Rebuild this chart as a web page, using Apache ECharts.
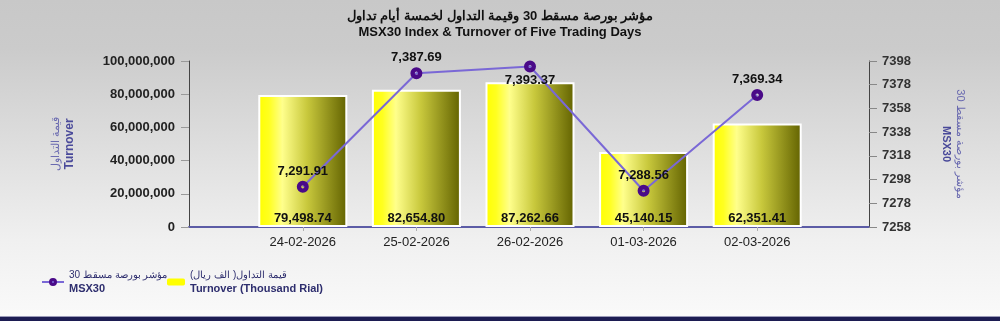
<!DOCTYPE html>
<html>
<head>
<meta charset="utf-8">
<script src="https://cdn.jsdelivr.net/npm/echarts@6/dist/echarts.min.js"></script>
<style>
  html, body { margin: 0; padding: 0; }
  #echarts { width: 1000px; height: 321px; }
</style>
</head>
<body>
<div id="echarts"></div>
<script>
// trading days
var dates = ['24-02-2026', '25-02-2026', '26-02-2026', '01-03-2026', '02-03-2026'];
// MSX30 index close
var msxValues = [7291.91, 7387.69, 7393.37, 7288.56, 7369.34];
// turnover, thousand rial
var turnoverValues = [79498.74, 82654.80, 87262.66, 45140.15, 62351.41];
// right axis ticks
var msxMin = 7258, msxMax = 7398, msxStep = 20;

function fmt(v, dot) {
    return Number(v).toLocaleString('en-US', {minimumFractionDigits: dot, maximumFractionDigits: dot});
}

var FONT = '"Liberation Sans", Arial, sans-serif';
var NAVY = '#2e2e6e';
// ring marker: purple disc with a small hole
var RING = 'path://M0,-6A6,6,0,1,1,0,6A6,6,0,1,1,0,-6ZM0,-1.6A1.6,1.6,0,1,0,0,1.6A1.6,1.6,0,1,0,0,-1.6Z';

var myChart = echarts.init(document.getElementById('echarts'));

var lineData = msxValues.map(function (v, i) {
    // the 3rd label sits under its point
    return i == 2 ? {value: v, label: {position: 'bottom', distance: 1}} : v;
});

var option = {
    animation: false,
    backgroundColor: {
        type: 'linear', x: 0, y: 0, x2: 0, y2: 1,
        colorStops: [
            {offset: 0, color: '#c8c8c8'},
            {offset: 0.15, color: '#cbcbcb'},
            {offset: 0.75, color: '#f0f0f0'},
            {offset: 1, color: '#fafafa'}
        ]
    },
    textStyle: {fontFamily: FONT},
    title: {
        text: 'مؤشر بورصة مسقط 30 وقيمة التداول لخمسة أيام تداول\nMSX30 Index & Turnover of Five Trading Days',
        left: 'center',
        top: 3,
        textStyle: {fontSize: 13, fontWeight: 'bold', color: '#111', lineHeight: 16, fontFamily: FONT}
    },
    legend: [
        {
            data: ['MSX30'],
            left: 36, top: 265,
            itemWidth: 22, itemHeight: 10,
            formatter: function () { return '{a|مؤشر بورصة مسقط 30}\n{b|MSX30}'; },
            textStyle: {
                rich: {
                    a: {fontSize: 10, color: NAVY, lineHeight: 14},
                    b: {fontSize: 11, color: NAVY, fontWeight: 'bold', lineHeight: 14, fontFamily: FONT}
                }
            }
        },
        {
            data: [{name: 'Turnover', itemStyle: {color: '#ffff00', borderWidth: 0}}],
            left: 162, top: 265,
            itemWidth: 18, itemHeight: 7,
            formatter: function () { return '{a|قيمة التداول( الف ريال)}\n{b|Turnover (Thousand Rial)}'; },
            textStyle: {
                rich: {
                    a: {fontSize: 10, color: NAVY, lineHeight: 14},
                    b: {fontSize: 11, color: NAVY, fontWeight: 'bold', lineHeight: 14, fontFamily: FONT}
                }
            }
        }
    ],
    grid: [
        {left: 246, right: 186, top: 61, bottom: 94},
        // only carries the long bottom line
        {left: 189, right: 131, top: 61, bottom: 94}
    ],
    xAxis: [
        {
            type: 'category',
            gridIndex: 0,
            data: dates,
            axisLine: {show: false},
            axisTick: {show: true, alignWithLabel: true, length: 4, lineStyle: {color: '#b0b0b0'}},
            axisLabel: {color: '#222', fontSize: 13, margin: 9, fontFamily: FONT}
        },
        {
            type: 'value',
            gridIndex: 1,
            axisLine: {show: true, lineStyle: {color: '#5c5ca6', width: 2}},
            axisTick: {show: false},
            axisLabel: {show: false},
            splitLine: {show: false}
        }
    ],
    yAxis: [
        {
            type: 'value',
            gridIndex: 0,
            position: 'left',
            offset: 57,
            min: 0,
            max: 100000,
            interval: 20000,
            name: '{a|قيمة التداول}\n{b|Turnover}',
            nameLocation: 'middle',
            nameGap: 112,
            nameTextStyle: {
                rich: {
                    a: {fontSize: 11, color: '#6a6ab0', lineHeight: 14},
                    b: {fontSize: 12, color: '#4a4a9a', fontWeight: 'bold', lineHeight: 14, fontFamily: FONT}
                }
            },
            axisLine: {show: true, lineStyle: {color: '#444', width: 1}},
            axisTick: {show: true, length: 8, lineStyle: {color: '#999'}},
            axisLabel: {
                color: '#222', fontSize: 13, fontWeight: 'bold', margin: 14, fontFamily: FONT,
                formatter: function (v) { return fmt(v * 1000, 0); }
            },
            splitLine: {show: false}
        },
        {
            type: 'value',
            gridIndex: 0,
            position: 'right',
            offset: 55,
            min: msxMin,
            max: msxMax,
            interval: msxStep,
            name: '{a|مؤشر بورصة مسقط 30}\n{b|MSX30}',
            nameLocation: 'middle',
            nameRotate: -90,
            nameGap: 70,
            nameTextStyle: {
                rich: {
                    a: {fontSize: 11, color: '#6a6ab0', lineHeight: 14},
                    b: {fontSize: 11, color: '#4a4a9a', fontWeight: 'bold', lineHeight: 14, fontFamily: FONT}
                }
            },
            axisLine: {show: true, lineStyle: {color: '#444', width: 1}},
            axisTick: {show: true, length: 8, lineStyle: {color: '#888'}},
            axisLabel: {
                color: '#333', fontSize: 13, fontWeight: 'bold', margin: 13, fontFamily: FONT,
                formatter: function (v) { return String(v); }
            },
            splitLine: {show: false}
        },
        {
            type: 'value',
            gridIndex: 1,
            show: false
        }
    ],
    series: [
        {
            name: 'Turnover',
            type: 'bar',
            xAxisIndex: 0,
            yAxisIndex: 0,
            barWidth: 89,
            itemStyle: {
                color: {
                    type: 'linear', x: 0, y: 0, x2: 1, y2: 0,
                    colorStops: [
                        {offset: 0, color: '#ffff00'},
                        {offset: 0.12, color: '#ffff20'},
                        {offset: 0.27, color: '#ffff8c'},
                        {offset: 0.55, color: '#c8c83c'},
                        {offset: 1, color: '#626200'}
                    ]
                },
                borderColor: '#ffffff',
                borderWidth: 2
            },
            label: {
                show: true,
                position: 'insideBottom',
                distance: 2,
                color: '#111',
                fontSize: 13,
                fontWeight: 'bold',
                fontFamily: FONT,
                formatter: function (p) { return fmt(p.value, 2); }
            },
            data: turnoverValues
        },
        {
            name: 'MSX30',
            type: 'line',
            xAxisIndex: 0,
            yAxisIndex: 1,
            symbol: RING,
            symbolSize: 12,
            lineStyle: {color: '#7a68d6', width: 2},
            itemStyle: {color: '#4a0a88'},
            label: {
                show: true,
                position: 'top',
                distance: 3,
                color: '#111',
                fontSize: 13,
                fontWeight: 'bold',
                fontFamily: FONT,
                formatter: function (p) { return fmt(p.value, 2); }
            },
            z: 5,
            data: lineData
        }
    ],
    graphic: [
        {
            type: 'rect', left: 0, bottom: 0, z: 100,
            shape: {width: 1000, height: 5},
            style: {fill: '#1c1c52'}
        },
        {
            type: 'rect', left: 0, bottom: 4, z: 100,
            shape: {width: 1000, height: 1},
            style: {fill: '#9a9ab8'}
        }
    ]
};
myChart.setOption(option);
</script>
</body>
</html>
